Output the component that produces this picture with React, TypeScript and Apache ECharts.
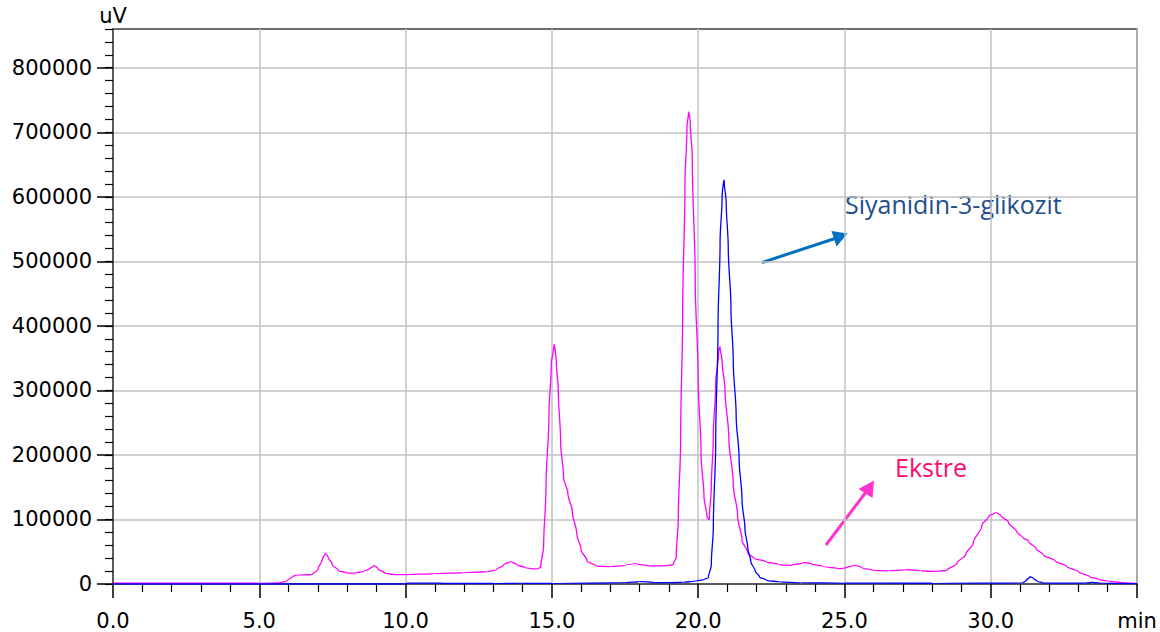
import React, { useEffect, useRef } from 'react';
import * as echarts from 'echarts';

const yMajor: number[] = [0, 100000, 200000, 300000, 400000, 500000, 600000, 700000, 800000];

const ekstre: [number, number][] = [
  [0, 1200], [5.0, 1200], [5.7, 1800], [5.95, 5000], [6.15, 12000], [6.3, 14000], [6.8, 14500],
  [7.0, 22000], [7.15, 38000], [7.25, 47000], [7.35, 42000], [7.5, 30000], [7.7, 21000],
  [8.0, 17000], [8.3, 17000], [8.6, 20000], [8.75, 23000], [8.9, 28000], [9.05, 24000],
  [9.3, 16500], [9.6, 14500], [10.0, 14500], [11.0, 16000], [12.0, 17500], [12.8, 19000],
  [13.1, 22000], [13.35, 30000], [13.55, 34000], [13.8, 30000], [14.1, 25000], [14.5, 23500],
  [14.62, 26000], [14.72, 60000], [14.8, 150000], [14.9, 260000], [14.98, 340000], [15.07, 369000],
  [15.15, 345000], [15.22, 300000], [15.3, 220000], [15.4, 165000], [15.55, 140000], [15.7, 112000],
  [15.85, 78000], [16.0, 53000], [16.2, 36000], [16.5, 28000], [17.0, 27000], [17.5, 28500],
  [17.9, 31000], [18.3, 28000], [18.8, 28000], [19.15, 30000], [19.25, 42000], [19.32, 100000],
  [19.4, 220000], [19.47, 420000], [19.55, 620000], [19.62, 710000], [19.67, 730000], [19.73, 715000],
  [19.8, 660000], [19.9, 470000], [20.0, 320000], [20.1, 200000], [20.2, 135000], [20.3, 105000],
  [20.38, 100000], [20.45, 150000], [20.52, 230000], [20.6, 310000], [20.7, 360000], [20.75, 367000],
  [20.82, 345000], [20.92, 300000], [21.05, 225000], [21.2, 155000], [21.35, 105000], [21.5, 68000],
  [21.7, 48000], [21.9, 40000], [22.3, 35000], [22.8, 30000], [23.2, 29000], [23.6, 33000],
  [23.9, 31000], [24.3, 27000], [24.8, 24000], [25.05, 25000], [25.3, 28500], [25.6, 25000],
  [26.0, 21000], [26.5, 20500], [27.1, 22000], [27.6, 20500], [28.1, 19500], [28.5, 21000],
  [28.85, 32000], [29.15, 46000], [29.4, 63000], [29.7, 91000], [29.95, 106000], [30.15, 110000],
  [30.35, 106000], [30.6, 96000], [30.9, 80000], [31.1, 72000], [31.3, 66000], [31.55, 55000],
  [31.8, 45000], [32.2, 36000], [32.6, 27000], [33.0, 19000], [33.4, 11000], [33.7, 7000],
  [34.0, 4500], [34.5, 2000], [35.0, 1000],
];

const siyanidin: [number, number][] = [
  [0, 0], [10, 0], [10.05, 1500], [11.2, 1500], [11.25, 800], [13, 800], [14, 1000], [15, 1000],
  [17.5, 2000], [18, 3500], [18.5, 2000], [19.5, 2500], [19.9, 4500], [20.2, 7000], [20.35, 10000],
  [20.45, 30000], [20.52, 90000], [20.6, 220000], [20.68, 400000], [20.75, 530000], [20.82, 600000],
  [20.89, 624000], [20.96, 590000], [21.03, 520000], [21.12, 430000], [21.2, 345000], [21.3, 260000],
  [21.4, 195000], [21.5, 130000], [21.6, 85000], [21.7, 55000], [21.8, 35000], [21.95, 20000],
  [22.1, 11000], [22.35, 5500], [22.8, 3000], [23.5, 1800], [25, 1500], [28, 1200], [31.1, 1500],
  [31.2, 5000], [31.33, 11000], [31.45, 9000], [31.6, 4000], [31.8, 1500], [33.2, 1500],
  [33.5, 2500], [33.8, 1200], [35, 500],
];

const FONT = 'DejaVu Sans';

export default function App() {
  const ref = useRef<HTMLDivElement>(null);
  useEffect(() => {
    const chart = echarts.init(ref.current as HTMLDivElement, null, { renderer: 'svg' });
    chart.setOption({
      animation: false,
      backgroundColor: '#ffffff',
      grid: {
        left: 113, right: 23, top: 29, bottom: 48,
        show: true, borderColor: '#404040', borderWidth: 1.5, backgroundColor: 'transparent',
      },
      xAxis: {
        type: 'value', min: 0, max: 35, interval: 5,
        axisLine: { show: true, onZero: false, lineStyle: { color: '#404040', width: 1.5 } },
        axisTick: { show: true, inside: false, length: 14, lineStyle: { color: '#000', width: 1.5 } },
        minorTick: { show: true, splitNumber: 5, length: 8, lineStyle: { color: '#000', width: 1.2 } },
        axisLabel: {
          margin: 26, fontSize: 21, fontFamily: FONT, color: '#000', showMinLabel: true, showMaxLabel: true,
          formatter: (v: number) => (v === 35 ? 'min' : v.toFixed(1)),
        },
        splitLine: { show: true, lineStyle: { color: '#c0c0c0', width: 1.5 } },
        minorSplitLine: { show: false },
      },
      yAxis: [
        {
          type: 'value', min: 0, max: 860000, interval: 100000, position: 'left',
          name: 'uV', nameLocation: 'end', nameGap: 3,
          nameTextStyle: { fontSize: 21, fontFamily: FONT, color: '#000', align: 'center' },
          axisLine: { show: true, lineStyle: { color: '#404040', width: 1.5 } },
          axisTick: { show: true, inside: false, length: 16, customValues: yMajor, lineStyle: { color: '#000', width: 1.5 } },
          axisLabel: {
            margin: 21, fontSize: 21, fontFamily: FONT, color: '#000', customValues: yMajor,
            formatter: (v: number) => (v > 800000 ? '' : String(v)),
          },
          splitLine: { show: true, lineStyle: { color: '#c0c0c0', width: 1.5 } },
        },
        {
          type: 'value', min: 0, max: 860000, interval: 20000, position: 'left',
          axisLine: { show: false },
          axisTick: { show: true, inside: false, length: 8, lineStyle: { color: '#000', width: 1.2 } },
          axisLabel: { show: false },
          splitLine: { show: false },
        },
      ],
      series: [
        {
          name: 'Ekstre', type: 'line', data: ekstre, yAxisIndex: 0, showSymbol: false, symbol: 'none',
          smooth: 0.35, smoothMonotone: 'y',
          lineStyle: { color: '#ff00ff', width: 1.3 }, itemStyle: { color: '#ff00ff' },
        },
        {
          name: 'Siyanidin-3-glikozit', type: 'line', data: siyanidin, yAxisIndex: 0, showSymbol: false, symbol: 'none',
          smooth: 0.35, smoothMonotone: 'y',
          lineStyle: { color: '#0000ff', width: 1.3 }, itemStyle: { color: '#0000ff' },
        },
      ],
      graphic: [
        { type: 'line', shape: { x1: 762, y1: 262.5, x2: 835, y2: 238.5 }, style: { stroke: '#0070C0', lineWidth: 3 } },
        { type: 'polygon', shape: { points: [[847.5, 233.5], [831.5, 231], [836.5, 246.5]] }, style: { fill: '#0070C0' } },
        { type: 'line', shape: { x1: 826, y1: 545, x2: 866, y2: 492 }, style: { stroke: '#FF33CC', lineWidth: 3 } },
        { type: 'polygon', shape: { points: [[874, 480.5], [858.5, 489], [872.5, 498]] }, style: { fill: '#FF33CC' } },
        {
          type: 'text', x: 845, y: 204,
          style: { text: 'Siyanidin-3-glikozit', fill: '#1F4E8C', fontSize: 25, fontFamily: 'Open Sans', align: 'left', verticalAlign: 'middle' },
        },
        {
          type: 'text', x: 895, y: 467,
          style: { text: 'Ekstre', fill: '#FF0A6C', fontSize: 25, fontFamily: 'Open Sans', align: 'left', verticalAlign: 'middle' },
        },
      ],
    });
    return () => chart.dispose();
  }, []);
  return (
    <div
      ref={ref}
      style={{ position: 'fixed', left: 0, top: 0, width: 1160, height: 632, background: '#fff' }}
    />
  );
}
